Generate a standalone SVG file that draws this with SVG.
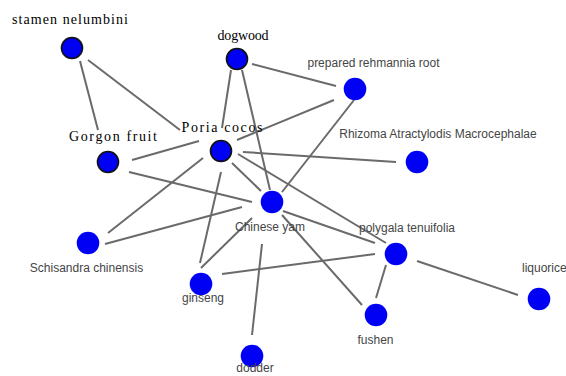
<svg xmlns="http://www.w3.org/2000/svg" width="566" height="376" viewBox="0 0 566 376">
<style>
.edge{stroke:#6a6a6a;stroke-width:2;stroke-linecap:butt;fill:none}
.n{fill:#0000f5}
.nb{fill:#0000f5;stroke:#111;stroke-width:1.6}
.ls{font-family:"Liberation Sans",Arial,sans-serif;font-size:12px;fill:#454545;text-anchor:middle}
.lm{font-family:"Liberation Serif","Times New Roman",serif;font-size:14px;fill:#000;text-anchor:middle}
</style>
<rect width="566" height="376" fill="#ffffff"/>
<g id="connectors">
<line class="edge" x1="80" y1="61" x2="98" y2="130"/>
<line class="edge" x1="88" y1="60" x2="180" y2="130"/>
<line class="edge" x1="231" y1="70" x2="222" y2="128"/>
<line class="edge" x1="242" y1="70" x2="270" y2="190"/>
<line class="edge" x1="252" y1="64" x2="336" y2="86"/>
<line class="edge" x1="237" y1="140" x2="334" y2="100"/>
<line class="edge" x1="243" y1="152" x2="396" y2="162"/>
<line class="edge" x1="132" y1="160" x2="199" y2="141"/>
<line class="edge" x1="203" y1="158" x2="108" y2="233"/>
<line class="edge" x1="221" y1="172" x2="200" y2="263"/>
<line class="edge" x1="232" y1="163" x2="261" y2="191"/>
<line class="edge" x1="238" y1="154" x2="386" y2="243"/>
<line class="edge" x1="129" y1="172" x2="252" y2="202"/>
<line class="edge" x1="105" y1="244" x2="242" y2="207"/>
<line class="edge" x1="354" y1="100" x2="282" y2="192"/>
<line class="edge" x1="283" y1="211" x2="375" y2="243"/>
<line class="edge" x1="282" y1="215" x2="362" y2="305"/>
<line class="edge" x1="252" y1="218" x2="201" y2="268"/>
<line class="edge" x1="262" y1="244" x2="252" y2="335"/>
<line class="edge" x1="222" y1="274" x2="375" y2="254"/>
<line class="edge" x1="386" y1="265" x2="376" y2="298"/>
<line class="edge" x1="417" y1="261" x2="518" y2="295"/>
</g>
<g id="stamen-nelumbini"><circle class="nb" cx="72" cy="48" r="10.5"/><text class="lm" x="70" y="24" textLength="116" lengthAdjust="spacing">stamen nelumbini</text></g>
<g id="dogwood"><circle class="nb" cx="237" cy="59" r="10.5"/><text class="lm" x="243" y="40" textLength="51" lengthAdjust="spacing">dogwood</text></g>
<g id="gorgon-fruit"><circle class="nb" cx="108" cy="162" r="10.5"/><text class="lm" x="113" y="141" textLength="88" lengthAdjust="spacing">Gorgon fruit</text></g>
<g id="poria-cocos"><circle class="nb" cx="221" cy="151" r="10.5"/><text class="lm" x="222" y="132" textLength="81" lengthAdjust="spacing">Poria cocos</text></g>
<g id="prepared-rehmannia-root"><circle class="n" cx="355" cy="89" r="11.3"/><text class="ls" x="373.5" y="67">prepared rehmannia root</text></g>
<g id="rhizoma"><circle class="n" cx="417" cy="162" r="11.3"/><text class="ls" x="438" y="138">Rhizoma Atractylodis Macrocephalae</text></g>
<g id="chinese-yam"><circle class="n" cx="272" cy="202" r="11.3"/><text class="ls" x="270" y="231">Chinese yam</text></g>
<g id="schisandra"><circle class="n" cx="88" cy="243" r="11.3"/><text class="ls" x="86.5" y="272">Schisandra chinensis</text></g>
<g id="ginseng"><circle class="n" cx="201" cy="284" r="11.3"/><text class="ls" x="203" y="302">ginseng</text></g>
<g id="polygala"><circle class="n" cx="396" cy="254" r="11.3"/><text class="ls" x="407" y="232">polygala tenuifolia</text></g>
<g id="liquorice"><circle class="n" cx="539" cy="299" r="11.3"/><text class="ls" x="522" y="272" style="text-anchor:start">liquorice</text></g>
<g id="fushen"><circle class="n" cx="376" cy="315" r="11.3"/><text class="ls" x="375.5" y="344">fushen</text></g>
<g id="dodder"><circle class="n" cx="252" cy="356" r="11.3"/><text class="ls" x="255" y="372">dodder</text></g>
</svg>
